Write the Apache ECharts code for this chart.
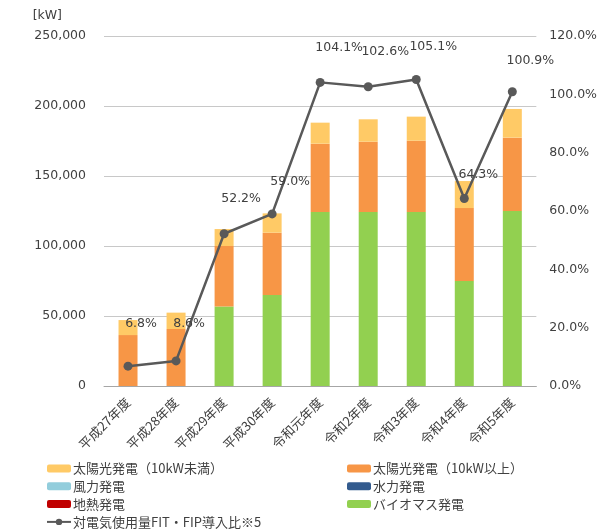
<!DOCTYPE html>
<html><head><meta charset="utf-8">
<script src="https://cdn.jsdelivr.net/npm/echarts@6/dist/echarts.min.js"></script>
<style>html,body{margin:0;padding:0;background:#fff}#c{width:600px;height:531px}</style>
</head><body><div id="c"></div>
<script>
const categories = ['平成27年度','平成28年度','平成29年度','平成30年度','令和元年度','令和2年度','令和3年度','令和4年度','令和5年度'];
const solarSmall = [10700, 11700, 12100, 13800, 15000, 16000, 17200, 19300, 20500];
const solarLarge = [36400, 40700, 43300, 44500, 48800, 50200, 50900, 52100, 52400];
const wind = [0,0,0,0,0,0,0,0,0];
const hydro = [0,0,0,0,0,0,0,0,0];
const geothermal = [0,0,0,0,0,0,0,0,0];
const biomass = [0, 0, 56700, 65000, 124300, 124300, 124300, 75000, 125000];
const ratio = [6.8, 8.6, 52.2, 59.0, 104.1, 102.6, 105.1, 64.3, 100.9];
const leftTicks = {min:0, max:250000, interval:50000};
const rightTicks = {min:0, max:120, interval:20};
// label offsets (style only)
const labelOffsets = [[13,-42],[13,-37],[17,-35],[18,-32],[19,-35],[17,-35],[17,-33],[14,-24],[18,-31]];

const txt = '#404040';
const ff = '"DejaVu Sans","Noto Sans CJK JP",sans-serif';
const jf = '"Noto Sans CJK JP",sans-serif';
const chart = echarts.init(document.getElementById('c'));
const barBase = {type:'bar', stack:'a', barWidth:19, yAxisIndex:0};
const legendBase = {orient:'vertical', itemWidth:24, itemHeight:8, itemGap:4.8, padding:0, top:462, height:69,
  textStyle:{fontFamily:jf, fontSize:13, lineHeight:13, color:txt, padding:[0,0,0,-3]}};
chart.setOption({
  animation:false,
  textStyle:{fontFamily:ff},
  grid:{left:104, right:62, top:36, bottom:145, containLabel:false},
  legend:[
    Object.assign({left:46, data:['太陽光発電（10kW未満）','風力発電','地熱発電','対電気使用量FIT・FIP導入比※5']}, legendBase),
    Object.assign({left:347, data:['太陽光発電（10kW以上）','水力発電','バイオマス発電']}, legendBase)
  ],
  xAxis:{type:'category', data:categories,
    axisLine:{lineStyle:{color:'#A6A6A6', width:1}}, axisTick:{show:false},
    axisLabel:{rotate:45, fontFamily:jf, fontSize:13, color:txt, margin:14, interval:0}},
  yAxis:[
    {type:'value', min:leftTicks.min, max:leftTicks.max, interval:leftTicks.interval,
     name:'[kW]', nameLocation:'end', nameGap:14,
     nameTextStyle:{fontFamily:ff, fontSize:12.5, color:txt, align:'right', padding:[0,42,0,0]},
     axisLabel:{fontSize:12.5, color:txt, margin:18, formatter:v=>v.toLocaleString('en-US')},
     axisLine:{show:false}, axisTick:{show:false},
     splitLine:{lineStyle:{color:'#C8C8C8', width:1}}},
    {type:'value', min:rightTicks.min, max:rightTicks.max, interval:rightTicks.interval,
     axisLabel:{fontSize:12.5, color:txt, margin:13, formatter:v=>v.toFixed(1)+'%'},
     axisLine:{show:false}, axisTick:{show:false}, splitLine:{show:false}}
  ],
  series:[
    Object.assign({name:'バイオマス発電', data:biomass, itemStyle:{color:'#92D050'}}, barBase),
    Object.assign({name:'地熱発電', data:geothermal, itemStyle:{color:'#C00000'}}, barBase),
    Object.assign({name:'水力発電', data:hydro, itemStyle:{color:'#335B8E'}}, barBase),
    Object.assign({name:'風力発電', data:wind, itemStyle:{color:'#92CDDC'}}, barBase),
    Object.assign({name:'太陽光発電（10kW以上）', data:solarLarge, itemStyle:{color:'#F79646'}}, barBase),
    Object.assign({name:'太陽光発電（10kW未満）', data:solarSmall, itemStyle:{color:'#FFCA66'}}, barBase),
    {name:'対電気使用量FIT・FIP導入比※5', type:'line', yAxisIndex:1,
     data: ratio.map((v,i)=>({value:v, label:{offset:labelOffsets[i]}})),
     symbol:'circle', symbolSize:9,
     lineStyle:{color:'#595959', width:2.5}, itemStyle:{color:'#595959'},
     label:{show:true, position:'inside', fontSize:12.5, color:txt, fontFamily:ff,
       formatter:p=>p.value.toFixed(1)+'%'}, z:5}
  ]
});
</script></body></html>
